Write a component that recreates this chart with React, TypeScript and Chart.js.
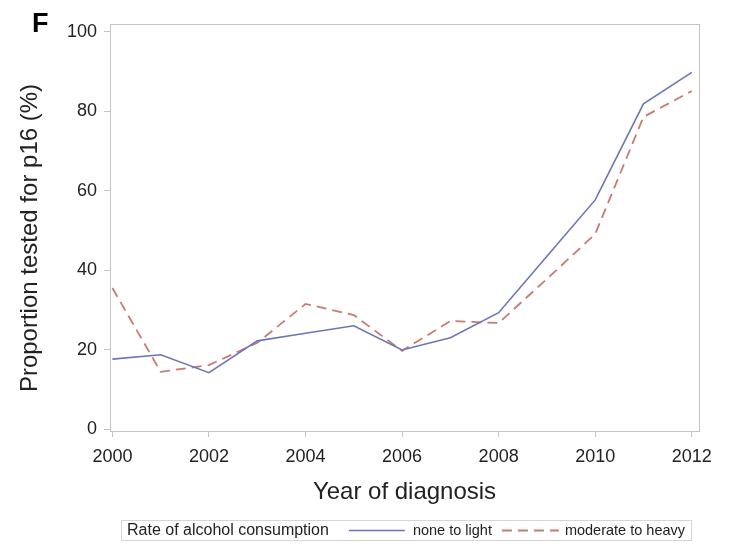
import React, { useEffect, useRef } from "react";
import { Chart, registerables } from "chart.js";

Chart.register(...registerables);

const years = [2000, 2001, 2002, 2003, 2004, 2005, 2006, 2007, 2008, 2009, 2010, 2011, 2012];
const noneToLight = [17.6, 18.7, 14.2, 22.2, 24.1, 26.0, 19.9, 23.0, 29.3, 43.5, 57.7, 81.9, 89.8];
const moderateToHeavy = [35.5, 14.4, 16.1, 21.7, 31.5, 28.7, 19.7, 27.2, 26.7, 37.8, 49.1, 78.6, 85.1];
const xTicks = [2000, 2002, 2004, 2006, 2008, 2010, 2012];
const yTicks = [0, 20, 40, 60, 80, 100];
const seriesLabels = ["none to light", "moderate to heavy"];
const legendTitle = "Rate of alcohol consumption";
const panelLabel = "F";
const xTitle = "Year of diagnosis";
const yTitle = "Proportion tested for p16 (%)";

const FONT = "'Liberation Sans', Arial, Helvetica, sans-serif";
const BLUE = "#6c76b6";
const RED = "#c87b70";
const FRAME = "#c4c4c4";

const framePlugin = {
  id: "frame",
  afterDatasetsDraw(chart: any) {
    const { ctx, chartArea } = chart;
    ctx.save();
    ctx.strokeStyle = FRAME;
    ctx.lineWidth = 1;
    ctx.strokeRect(
      Math.round(chartArea.left) + 0.5,
      Math.round(chartArea.top) + 0.5,
      Math.round(chartArea.right - chartArea.left),
      Math.round(chartArea.bottom - chartArea.top)
    );
    ctx.restore();
  },
};

const extrasPlugin = {
  id: "extras",
  afterDraw(chart: any) {
    const ctx = chart.ctx;
    ctx.save();
    // panel label
    ctx.fillStyle = "#000";
    ctx.font = `bold 27px ${FONT}`;
    ctx.textBaseline = "alphabetic";
    ctx.textAlign = "left";
    ctx.fillText(panelLabel, 32, 32);

    // y axis title (centred slightly below the plot centre, as in the source)
    ctx.save();
    ctx.translate(30, 238);
    ctx.rotate(-Math.PI / 2);
    ctx.textAlign = "center";
    ctx.textBaseline = "middle";
    ctx.fillStyle = "#222";
    ctx.font = `24px ${FONT}`;
    ctx.fillText(yTitle, 0, 0);
    ctx.restore();

    // legend
    const boxLeft = 121;
    const boxTop = 520;
    const boxH = 20;
    const midY = boxTop + boxH / 2 + 0.5;
    let x = 127;
    ctx.textBaseline = "middle";
    ctx.textAlign = "left";
    ctx.fillStyle = "#222";
    ctx.font = `16px ${FONT}`;
    ctx.fillText(legendTitle, x, midY);
    x += ctx.measureText(legendTitle).width + 20;
    ctx.font = `14.5px ${FONT}`;
    const ds = chart.data.datasets;
    const sampleW = [56, 57];
    const gapAfterSample = [8, 6];
    ds.forEach((d: any, i: number) => {
      ctx.save();
      ctx.strokeStyle = d.borderColor;
      ctx.lineWidth = d.borderWidth;
      ctx.setLineDash(d.borderDash || []);
      ctx.beginPath();
      ctx.moveTo(x, midY);
      ctx.lineTo(x + sampleW[i], midY);
      ctx.stroke();
      ctx.restore();
      x += sampleW[i] + gapAfterSample[i];
      ctx.fillStyle = "#222";
      ctx.fillText(d.label, x, midY);
      x += ctx.measureText(d.label).width + 10;
    });
    const boxRight = x - 4;
    ctx.strokeStyle = "#d6d6d6";
    ctx.lineWidth = 1;
    ctx.strokeRect(boxLeft + 0.5, boxTop + 0.5, boxRight - boxLeft, boxH);
    ctx.restore();
  },
};

export default function App() {
  const canvasRef = useRef<HTMLCanvasElement | null>(null);

  useEffect(() => {
    document.body.style.margin = "0";
    const canvas = canvasRef.current;
    if (!canvas) return;
    const chart = new Chart(canvas, {
      type: "line",
      data: {
        datasets: [
          {
            label: seriesLabels[0],
            data: years.map((yr, i) => ({ x: yr, y: noneToLight[i] })),
            borderColor: BLUE,
            borderWidth: 1.6,
            pointRadius: 0,
            tension: 0,
            fill: false,
          },
          {
            label: seriesLabels[1],
            data: years.map((yr, i) => ({ x: yr, y: moderateToHeavy[i] })),
            borderColor: RED,
            borderWidth: 1.8,
            borderDash: [10, 6],
            pointRadius: 0,
            tension: 0,
            fill: false,
          },
        ],
      },
      options: {
        animation: false,
        responsive: false,
        maintainAspectRatio: false,
        devicePixelRatio: 1,
        layout: { padding: { top: 24, right: 31, left: 0, bottom: 33 } },
        plugins: {
          legend: { display: false },
          tooltip: { enabled: false },
          title: { display: false },
        },
        scales: {
          x: {
            type: "linear",
            min: 1999.95,
            max: 2012.15,
            afterBuildTicks: (scale: any) => {
              scale.ticks = xTicks.map((v) => ({ value: v }));
            },
            afterFit: (scale: any) => {
              scale.height = 80;
            },
            grid: {
              drawOnChartArea: false,
              drawTicks: true,
              tickLength: 6,
              color: FRAME,
            },
            border: { display: false },
            ticks: {
              padding: 9,
              color: "#222",
              font: { family: FONT, size: 18 },
              callback: (v: any) => String(v),
              maxRotation: 0,
              autoSkip: false,
            },
            title: {
              display: true,
              text: xTitle,
              color: "#222",
              font: { family: FONT, size: 24 },
              padding: { top: 0, bottom: 4 },
            },
          },
          y: {
            type: "linear",
            min: -0.5,
            max: 102,
            afterBuildTicks: (scale: any) => {
              scale.ticks = yTicks.map((v) => ({ value: v }));
            },
            afterFit: (scale: any) => {
              scale.width = 110;
            },
            grid: {
              drawOnChartArea: false,
              drawTicks: true,
              tickLength: 6,
              color: FRAME,
            },
            border: { display: false },
            ticks: {
              padding: 7,
              color: "#222",
              font: { family: FONT, size: 18 },
              callback: (v: any) => String(v),
              autoSkip: false,
            },
            title: { display: false, text: yTitle },
          },
        },
      },
      plugins: [framePlugin, extrasPlugin],
    } as any);
    return () => chart.destroy();
  }, []);

  return (
    <div style={{ width: 730, height: 544, background: "#fff" }}>
      <canvas ref={canvasRef} width={730} height={544} style={{ display: "block" }} />
    </div>
  );
}
